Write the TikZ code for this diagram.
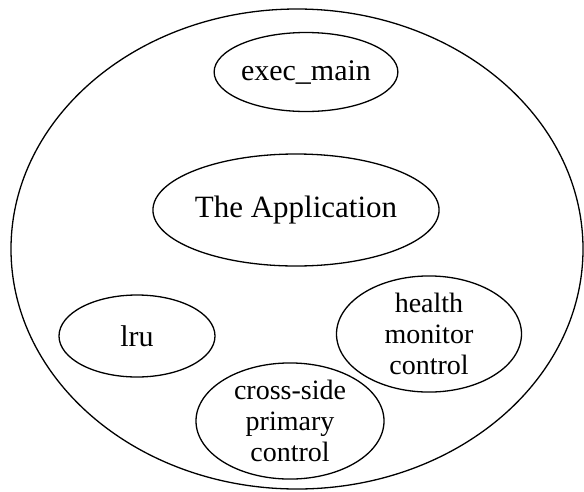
\documentclass[tikz,border=0pt]{standalone}
\usepackage{fontspec}
\setmainfont{Liberation Serif}
\usetikzlibrary{shapes,positioning}

\tikzset{
  blob/.style={draw, ellipse, inner sep=0pt, line width=1.3pt,
    align=center, font=\fontsize{30}{31}\selectfont},
  stack/.style={blob, font=\fontsize{28}{31.2}\selectfont},
}

\begin{document}
\begin{tikzpicture}[x=1pt,y=-1pt]
    \useasboundingbox (0,0) rectangle (584,491);
	  % the whole system
	  \node[blob, minimum width=572pt, minimum height=480pt] (sys) at (297,249) {};
    % the parts inside it
		\node[blob, minimum width=156pt, minimum height=79pt] (exec) at (306,72) {exec\_main};
		\node[blob, minimum width=280pt, minimum height=112pt] (app) at (296,210) {\fontsize{31}{31}\selectfont The Application};
		\node[blob, minimum width=156pt, minimum height=82pt] (lru) at (137,336) {lru};
		\node[stack, minimum width=185pt, minimum height=105pt] (hmc) at (429,334) {health\\monitor\\control};
		\node[stack, minimum width=188pt, minimum height=104pt] (xspc) at (290,421) {cross-side\\primary\\control};
\end{tikzpicture}
\end{document}
